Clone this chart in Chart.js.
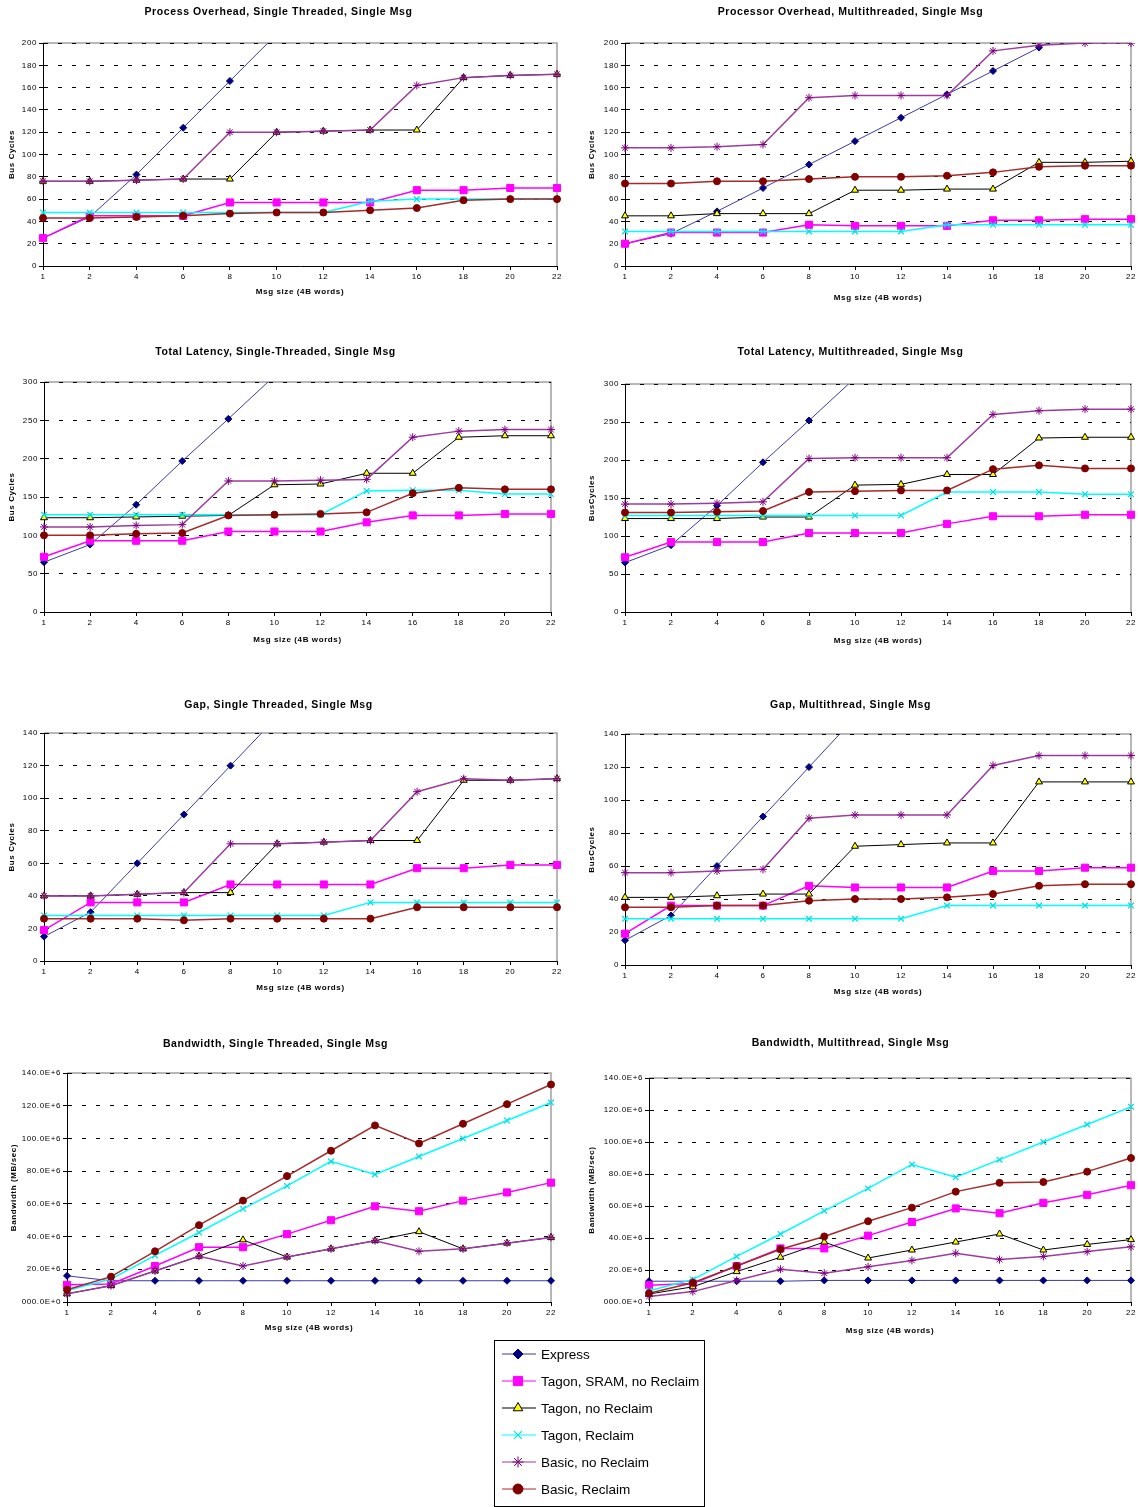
<!DOCTYPE html>
<html>
<head>
<meta charset="utf-8">
<script src="https://cdn.jsdelivr.net/npm/chart.js@4/dist/chart.umd.min.js"></script>
<style>
  body { margin: 0; background: #fff; }
  #page { position: relative; width: 1138px; height: 1507px; overflow: hidden; }
  #page canvas { position: absolute; }
</style>
</head>
<body>
<div id="page"></div>
<script>
// message sizes (4B words) on the x axis
const SIZES = ['1', '2', '4', '6', '8', '10', '12', '14', '16', '18', '20', '22'];

const SERIES = ['Express', 'Tagon, SRAM, no Reclaim', 'Tagon, no Reclaim',
                'Tagon, Reclaim', 'Basic, no Reclaim', 'Basic, Reclaim'];

// each panel: one row per series, same order as SERIES
const overheadST = [
  [25, 44, 82, 124, 166, 208, 250, 292, 334, 376, 418, 460],
  [25, 45, 45, 45, 57, 57, 57, 57, 68, 68, 70, 70],
  [76, 76, 77, 78, 78, 120, 121, 122, 122, 169, 171, 172],
  [48, 48, 48, 48, 48, 48, 48, 58, 60, 60, 60, 60],
  [76, 76, 77, 78, 120, 120, 121, 122, 162, 169, 171, 172],
  [43, 43, 44, 45, 47, 48, 48, 50, 52, 59, 60, 60]
];
const overheadMT = [
  [20, 29, 49, 70, 91, 112, 133, 154, 175, 196, 217, 238],
  [20, 30, 30, 30, 37, 36, 36, 36, 41, 41, 42, 42],
  [45, 45, 47, 47, 47, 68, 68, 69, 69, 93, 93, 94],
  [31, 31, 31, 31, 31, 31, 31, 37, 37, 37, 37, 37],
  [106, 106, 107, 109, 151, 153, 153, 153, 193, 198, 200, 200],
  [74, 74, 76, 76, 78, 80, 80, 81, 84, 89, 90, 90]
];
const latencyST = [
  [65, 88, 140, 197, 252, 308, 364, 420, 476, 532, 588, 644],
  [72, 93, 93, 93, 105, 105, 105, 117, 126, 126, 128, 128],
  [123, 123, 124, 125, 126, 166, 167, 181, 181, 228, 230, 230],
  [127, 127, 127, 127, 127, 127, 127, 158, 159, 159, 154, 154],
  [111, 111, 113, 114, 171, 171, 172, 173, 228, 236, 238, 238],
  [100, 100, 102, 103, 126, 127, 128, 130, 155, 162, 160, 160]
];
const latencyMT = [
  [65, 88, 140, 197, 252, 308, 364, 420, 476, 532, 588, 644],
  [72, 92, 92, 92, 104, 104, 104, 116, 126, 126, 128, 128],
  [123, 123, 123, 125, 125, 167, 168, 181, 181, 229, 230, 230],
  [127, 127, 127, 127, 127, 127, 127, 158, 158, 158, 155, 155],
  [142, 142, 143, 145, 202, 203, 203, 203, 260, 265, 267, 267],
  [131, 131, 132, 133, 158, 159, 160, 160, 188, 193, 189, 189]
];
const gapST = [
  [15, 30, 60, 90, 120, 150, 180, 210, 240, 270, 300, 330],
  [19, 36, 36, 36, 47, 47, 47, 47, 57, 57, 59, 59],
  [40, 40, 41, 42, 42, 72, 73, 74, 74, 111, 111, 112],
  [28, 28, 28, 28, 28, 28, 28, 36, 36, 36, 36, 36],
  [40, 40, 41, 42, 72, 72, 73, 74, 104, 112, 111, 112],
  [26, 26, 26, 25, 26, 26, 26, 26, 33, 33, 33, 33]
];
const gapMT = [
  [15, 30, 60, 90, 120, 150, 180, 210, 240, 270, 300, 330],
  [19, 36, 36, 36, 48, 47, 47, 47, 57, 57, 59, 59],
  [41, 41, 42, 43, 43, 72, 73, 74, 74, 111, 111, 111],
  [28, 28, 28, 28, 28, 28, 28, 36, 36, 36, 36, 36],
  [56, 56, 57, 58, 89, 91, 91, 91, 121, 127, 127, 127],
  [35, 35, 36, 36, 39, 40, 40, 41, 43, 48, 49, 49]
];
// bandwidth in millions (E+6)
const bandwidthST = [
  [16, 13, 13, 13, 13, 13, 13, 13, 13, 13, 13, 13],
  [10.5, 11, 22, 33.5, 33.5, 41.5, 50, 58.5, 55.5, 62, 67, 73],
  [5, 10, 19, 28, 38, 27.5, 32.5, 37.5, 43, 32.5, 36, 39.5],
  [7, 14, 28.5, 42.5, 57, 71, 86, 78, 89, 100, 111, 122],
  [5, 10, 19, 28, 22, 27.5, 32.5, 37.5, 31, 32.5, 36, 39.5],
  [7.5, 15.5, 31, 47, 62, 77, 92.5, 108, 97, 109, 121, 133]
];
const bandwidthMT = [
  [13, 13, 13, 13, 13.5, 13.5, 13.5, 13.5, 13.5, 13.5, 13.5, 13.5],
  [10.5, 11.5, 22.5, 33.5, 33.5, 41.5, 50, 58.5, 55.5, 62, 67, 73],
  [5, 9.5, 19, 28, 37.5, 27.5, 32.5, 37.5, 42.5, 32.5, 36, 39],
  [7, 14, 28.5, 42.5, 57, 71, 86, 78, 89, 100, 111, 122],
  [3.5, 6.5, 13.5, 20.5, 18, 22, 26, 30.5, 26.5, 28.5, 31.5, 34.5],
  [5.5, 12, 22.5, 33, 41, 50.5, 59, 69, 74.5, 75, 81.5, 90]
];

// line / marker look of each series
const STYLES = [
  { borderColor: '#3a3aa8', borderWidth: 1, pointStyle: 'rectRot', pointRadius: 3.5,
    pointBackgroundColor: '#000080', pointBorderColor: '#000080', pointBorderWidth: 1 },
  { borderColor: '#ff00ff', borderWidth: 1.5, pointStyle: 'rect', pointRadius: 5,
    pointBackgroundColor: '#ff00ff', pointBorderColor: '#ff00ff', pointBorderWidth: 1 },
  { borderColor: '#000000', borderWidth: 1, pointStyle: 'triangle', pointRadius: 4,
    pointBackgroundColor: '#ffff00', pointBorderColor: '#000000', pointBorderWidth: 1 },
  { borderColor: '#00ffff', borderWidth: 1.5, pointStyle: 'crossRot', pointRadius: 4,
    pointBackgroundColor: '#00ffff', pointBorderColor: '#00e0e0', pointBorderWidth: 1.2 },
  { borderColor: '#9c3c9c', borderWidth: 1.5, pointStyle: 'star', pointRadius: 4,
    pointBackgroundColor: '#800080', pointBorderColor: '#800080', pointBorderWidth: 1 },
  { borderColor: '#a52a2a', borderWidth: 1.5, pointStyle: 'circle', pointRadius: 3.5,
    pointBackgroundColor: '#800000', pointBorderColor: '#800000', pointBorderWidth: 1 }
];

Chart.defaults.font.family = "'Liberation Sans', Arial, sans-serif";
Chart.defaults.color = '#000';

var page = document.getElementById('page');

// gray frame on top/right of plot + wider letter spacing like the old excel output
var frame = {
  id: 'frame',
  beforeDraw: function (chart) {
    var a = chart.chartArea, ctx = chart.ctx;
    ctx.letterSpacing = '0.6px';
    ctx.save();
    ctx.strokeStyle = '#a0a0a0';
    ctx.lineWidth = 1.5;
    ctx.beginPath();
    ctx.moveTo(a.left, a.top);
    ctx.lineTo(a.right, a.top);
    ctx.lineTo(a.right, a.bottom);
    ctx.stroke();
    ctx.restore();
  }
};

function bwLabel(v) {
  return v === 0 ? '000.0E+0' : v.toFixed(1) + 'E+6';
}

function makePanel(p) {
  var cv = document.createElement('canvas');
  var top = p.titleY - 10;
  var xH = p.xTitleY + 5 - p.plotB;
  cv.width = p.plotR + 12 - p.left;
  cv.height = p.plotB + xH - top;
  cv.style.left = p.left + 'px';
  cv.style.top = top + 'px';
  page.appendChild(cv);

  var datasets = p.rows.map(function (row, i) {
    return Object.assign({ label: SERIES[i], data: row, tension: 0, fill: false,
                           order: SERIES.length - i }, STYLES[i]);
  });

  new Chart(cv, {
    type: 'line',
    data: { labels: SIZES, datasets: datasets },
    options: {
      responsive: false,
      animation: false,
      events: [],
      layout: { padding: { left: 0, right: 12, top: 0, bottom: 0 } },
      plugins: {
        legend: { display: false },
        tooltip: { enabled: false },
        title: {
          display: true, text: p.title, color: '#000',
          font: { size: 10.5, weight: 'bold', lineHeight: 1.15 },
          padding: { top: 4, bottom: p.plotT - top - 16 }
        }
      },
      scales: {
        x: {
          offset: false,
          grid: { drawOnChartArea: false, color: '#000', tickLength: 4 },
          border: { color: '#000', width: 1 },
          ticks: { font: { size: 8 }, padding: 2, maxRotation: 0, autoSkip: false },
          title: { display: true, text: 'Msg size (4B words)', font: { size: 8, weight: 'bold' }, padding: 0 },
          afterFit: function (s) { s.height = xH; }
        },
        y: {
          min: 0, max: p.max,
          ticks: { stepSize: p.step, font: { size: 8 }, padding: 2, callback: p.fmt },
          grid: { color: '#000', tickLength: 4 },
          border: { color: '#000', width: 1, dash: [4, 10] },
          title: { display: true, text: p.yTitle, font: { size: 8, weight: 'bold' },
                   padding: { top: p.yTitleX - p.left - 4.8, bottom: 0 } },
          afterFit: function (s) { s.width = p.plotL - p.left; }
        }
      }
    },
    plugins: [frame]
  });
}

var plain = function (v) { return v; };

makePanel({ rows: overheadST, title: 'Process Overhead, Single Threaded, Single Msg', yTitle: 'Bus Cycles',
  max: 200, step: 20, fmt: plain, left: 0, plotL: 43, plotR: 557, plotT: 43, plotB: 266, titleY: 12, yTitleX: 12, xTitleY: 292 });
makePanel({ rows: overheadMT, title: 'Processor Overhead, Multithreaded, Single Msg', yTitle: 'Bus Cycles',
  max: 200, step: 20, fmt: plain, left: 570, plotL: 625, plotR: 1131, plotT: 43, plotB: 266, titleY: 12, yTitleX: 592, xTitleY: 298 });
makePanel({ rows: latencyST, title: 'Total Latency, Single-Threaded, Single Msg', yTitle: 'Bus Cycles',
  max: 300, step: 50, fmt: plain, left: 0, plotL: 44, plotR: 551, plotT: 382, plotB: 612, titleY: 352, yTitleX: 12, xTitleY: 640 });
makePanel({ rows: latencyMT, title: 'Total Latency, Multithreaded, Single Msg', yTitle: 'BusCycles',
  max: 300, step: 50, fmt: plain, left: 570, plotL: 625, plotR: 1131, plotT: 384, plotB: 612, titleY: 352, yTitleX: 592, xTitleY: 641 });
makePanel({ rows: gapST, title: 'Gap, Single Threaded, Single Msg', yTitle: 'Bus Cycles',
  max: 140, step: 20, fmt: plain, left: 0, plotL: 44, plotR: 557, plotT: 733, plotB: 961, titleY: 705, yTitleX: 12, xTitleY: 988 });
makePanel({ rows: gapMT, title: 'Gap, Multithread, Single Msg', yTitle: 'BusCycles',
  max: 140, step: 20, fmt: plain, left: 570, plotL: 625, plotR: 1131, plotT: 734, plotB: 965, titleY: 705, yTitleX: 592, xTitleY: 992 });
makePanel({ rows: bandwidthST, title: 'Bandwidth, Single Threaded, Single Msg', yTitle: 'Bandwidth (MB/sec)',
  max: 140, step: 20, fmt: bwLabel, left: 0, plotL: 67, plotR: 551, plotT: 1073, plotB: 1302, titleY: 1044, yTitleX: 14, xTitleY: 1328 });
makePanel({ rows: bandwidthMT, title: 'Bandwidth, Multithread, Single Msg', yTitle: 'Bandwidth (MB/sec)',
  max: 140, step: 20, fmt: bwLabel, left: 570, plotL: 649, plotR: 1131, plotT: 1078, plotB: 1302, titleY: 1043, yTitleX: 592, xTitleY: 1331 });

// shared legend box at the bottom
var legendBox = {
  id: 'legendBox',
  afterDraw: function (chart) {
    var ctx = chart.ctx;
    var dp = Chart.helpers && Chart.helpers.drawPoint;
    ctx.save();
    ctx.strokeStyle = '#000';
    ctx.lineWidth = 1;
    ctx.strokeRect(0.5, 0.5, chart.width - 1, chart.height - 1);
    ctx.font = "13.5px 'Liberation Sans', Arial, sans-serif";
    ctx.textBaseline = 'middle';
    ctx.fillStyle = '#000';
    chart.data.datasets.forEach(function (ds, i) {
      var y = 14 + i * 27;
      ctx.strokeStyle = ds.borderColor;
      ctx.lineWidth = 1.2;
      ctx.beginPath();
      ctx.moveTo(8, y);
      ctx.lineTo(42, y);
      ctx.stroke();
      if (dp) {
        ctx.fillStyle = ds.pointBackgroundColor;
        ctx.strokeStyle = ds.pointBorderColor;
        ctx.lineWidth = ds.pointBorderWidth;
        dp(ctx, { pointStyle: ds.pointStyle, radius: ds.pointRadius + 1.5, rotation: 0,
                  borderWidth: ds.pointBorderWidth }, 24, y);
      }
      ctx.fillStyle = '#000';
      ctx.fillText(ds.label, 47, y + 1);
    });
    ctx.restore();
  }
};

(function () {
  var cv = document.createElement('canvas');
  cv.width = 211;
  cv.height = 167;
  cv.style.left = '494px';
  cv.style.top = '1340px';
  page.appendChild(cv);
  new Chart(cv, {
    type: 'line',
    data: {
      labels: [],
      datasets: SERIES.map(function (name, i) {
        return Object.assign({ label: name, data: [] }, STYLES[i]);
      })
    },
    options: {
      responsive: false,
      animation: false,
      events: [],
      plugins: { legend: { display: false }, tooltip: { enabled: false } },
      scales: { x: { display: false }, y: { display: false } }
    },
    plugins: [legendBox]
  });
})();
</script>
</body>
</html>
